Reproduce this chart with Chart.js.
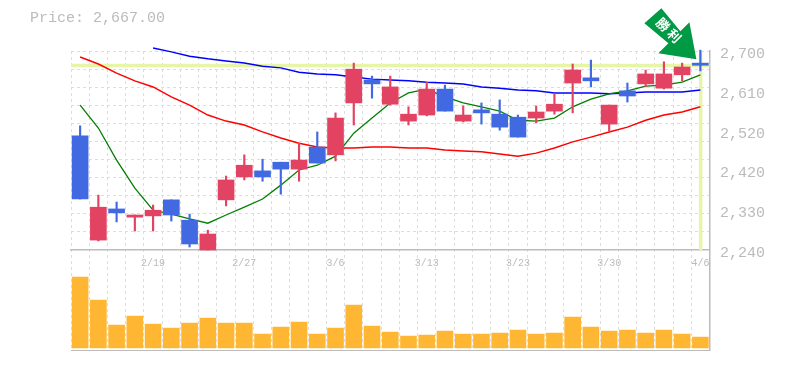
<!DOCTYPE html>
<html><head><meta charset="utf-8">
<style>html,body{margin:0;padding:0;background:#fff}canvas{display:block}</style>
<script src="https://cdn.jsdelivr.net/npm/chart.js@4/dist/chart.umd.min.js"></script>
</head><body><canvas id="c" width="785" height="370"></canvas>
<script>
const titleText = 'Price: 2,667.00';
const lastPrice = 2667;
const dates = ['2/13','2/14','2/15','2/18','2/19','2/20','2/21','2/22','2/25','2/27','2/28','3/1','3/4','3/5','3/6','3/7','3/8','3/11','3/12','3/13','3/14','3/15','3/18','3/19','3/23','3/25','3/26','3/27','3/28','3/30','4/1','4/2','4/3','4/4','4/6'];
const labelEvery = [4,9,14,19,24,29,34];
const opens  = [2504,2263,2335,2316,2319,2356,2309,2240,2356,2409,2423,2443,2427,2478,2460,2580,2633,2577,2538,2552,2612,2538,2564,2554,2547,2545,2561,2626,2638,2531,2608,2624,2614,2645,2672];
const highs  = [2527,2367,2351,2321,2344,2356,2323,2286,2411,2460,2450,2443,2487,2513,2557,2672,2642,2642,2571,2628,2621,2573,2580,2587,2552,2573,2601,2670,2679,2575,2626,2656,2675,2672,2702];
const lows   = [2358,2261,2305,2284,2284,2307,2247,2240,2342,2402,2399,2369,2399,2441,2446,2529,2591,2575,2529,2550,2561,2536,2531,2517,2501,2534,2554,2557,2617,2515,2582,2617,2612,2631,2654];
const closes = [2358,2339,2326,2321,2332,2321,2254,2277,2402,2436,2409,2427,2448,2441,2545,2658,2624,2617,2554,2612,2561,2552,2557,2524,2501,2559,2577,2656,2631,2575,2596,2647,2647,2663,2667];
const volumes = [710,480,230,320,240,200,250,300,250,250,140,210,260,140,200,430,220,160,120,130,170,140,140,150,180,140,150,310,210,170,180,150,180,140,110];
const maShort = [2575,2522,2448,2383,2332,2323,2312,2302,2321,2339,2358,2390,2425,2436,2457,2510,2545,2580,2603,2612,2594,2580,2571,2561,2540,2538,2545,2571,2589,2601,2608,2619,2621,2628,2645];
const maMid = [null,null,null,null,2707,2698,2688,2682,2677,2672,2665,2661,2651,2647,2645,2640,2635,2633,2631,2628,2626,2624,2617,2614,2610,2608,2603,2603,2603,2601,2603,2605,2605,2605,2610];
const maLong = [2686,2670,2649,2631,2617,2594,2575,2552,2538,2529,2513,2499,2487,2478,2476,2476,2478,2478,2476,2476,2471,2469,2467,2462,2457,2464,2476,2490,2501,2513,2524,2540,2552,2559,2571];
const priceTicks = [2240,2332,2424,2516,2608,2700];
const priceTickLabels = ['2,240','2,330','2,420','2,520','2,610','2,700'];
const gridValues = [2700,2658,2616,2575,2533,2491,2449,2407,2365,2324,2282];
const priceFloor = 2009;
const priceCeil = 2700;

const UP = '#E34362', DOWN = '#4169E1', VOL = '#FFB733', MARK = '#E6F5A8', TXT = '#BBBBBB', GRID = '#DDDDDD', AXIS = '#BBBBBB', BADGE = '#009944';
const MONO = "'Liberation Mono', monospace";
const candleColors = opens.map((o,i)=> closes[i] >= o ? UP : DOWN);
const bodies = opens.map((o,i)=>[o,closes[i]]);
const wicks = lows.map((l,i)=>[l,highs[i]]);

const overlay = {
  id:'overlay',
  beforeDatasetsDraw(chart){
    const {ctx,chartArea:a,scales} = chart;
    const y = scales.y.getPixelForValue(lastPrice);
    const x = scales.x.getPixelForValue(dates.length-1);
    const bottom = scales.y.getPixelForValue(priceTicks[0]);
    ctx.save();
    ctx.fillStyle = MARK;
    ctx.fillRect(a.left,y-1.5,a.right-a.left,3.5);
    ctx.fillRect(x-1.5,a.top,3.5,bottom-a.top);
    ctx.restore();
  },
  afterDraw(chart){
    const {ctx,scales} = chart;
    const tx = scales.x.getPixelForValue(dates.length-1)-4;
    const ty = scales.y.getPixelForValue(lastPrice)-6;
    ctx.save();
    ctx.translate(tx,ty);
    ctx.fillStyle = BADGE;
    ctx.beginPath();
    [[-35,-51],[-52,-36],[-28,-16],[-38,-6],[0,0],[-7,-37],[-16,-28]].forEach((p,i)=> i?ctx.lineTo(p[0],p[1]):ctx.moveTo(p[0],p[1]));
    ctx.closePath();ctx.fill();
    ctx.translate(-29,-29);
    ctx.rotate(Math.PI/4);
    ctx.fillStyle='#fff';
    ctx.font="bold 13px 'Noto Sans CJK JP'";
    ctx.textAlign='center';ctx.textBaseline='middle';
    ctx.fillText('勝',-7,-1);
    ctx.fillText('利',9,-1);
    ctx.restore();
  }
};

new Chart(document.getElementById('c'),{
  type:'bar',
  data:{labels:dates,datasets:[
    {type:'bar',label:'wick',data:wicks,backgroundColor:candleColors,barThickness:1.5,grouped:false,yAxisID:'y',order:1,clip:false},
    {type:'bar',label:'body',data:bodies,backgroundColor:candleColors,barThickness:16,grouped:false,yAxisID:'y',order:2,clip:false},
    {type:'bar',label:'volume',data:volumes,backgroundColor:VOL,barThickness:16,grouped:false,yAxisID:'yVol',order:3},
    {type:'line',label:'ma5',data:maShort,borderColor:'#007F00',borderWidth:1.3,pointRadius:0,tension:0,yAxisID:'y',order:4,clip:false},
    {type:'line',label:'ma25',data:maLong,borderColor:'#FF0000',borderWidth:1.5,pointRadius:0,tension:0,yAxisID:'y',order:5,clip:false},
    {type:'line',label:'ma75',data:maMid,borderColor:'#0000FF',borderWidth:1.5,pointRadius:0,tension:0,yAxisID:'y',order:6,clip:false,spanGaps:false}
  ]},
  options:{
    responsive:false,animation:false,
    layout:{padding:{left:30,top:0,bottom:20,right:0}},
    plugins:{
      legend:{display:false},tooltip:{enabled:false},
      title:{display:true,text:titleText,align:'start',color:TXT,font:{family:MONO,size:15,weight:'normal'},padding:{top:9,bottom:24}}
    },
    scales:{
      x:{type:'category',position:{y:priceTicks[0]},offset:true,
        grid:{display:true,offset:true,color:GRID,drawTicks:false,lineWidth:1},
        border:{display:true,color:AXIS,width:1.5,dash:[3,3]},
        ticks:{autoSkip:false,maxRotation:0,color:TXT,padding:7,font:{family:MONO,size:10},
          callback(v,i){return labelEvery.includes(i)?dates[i]:'';}}
      },
      y:{position:'right',min:priceFloor,max:priceCeil,
        afterFit(s){s.width=75.5;},
        afterBuildTicks(s){s.ticks=priceTicks.map(value=>({value}));},
        grid:{display:false,drawTicks:false},
        border:{display:true,color:AXIS,width:1.5},
        ticks:{color:TXT,padding:10.5,labelOffset:3,font:{family:MONO,size:15},
          callback(v){return priceTickLabels[priceTicks.indexOf(v)];}}
      },
      yGrid:{position:'left',min:priceFloor,max:priceCeil,
        afterFit(s){s.width=41;},
        afterBuildTicks(s){s.ticks=gridValues.concat([priceFloor]).map(value=>({value}));},
        grid:{drawTicks:false,lineWidth:1,color(c){return c.tick&&c.tick.value===priceFloor?AXIS:GRID;}},
        border:{display:false,dash(c){return c.tick&&c.tick.value===priceFloor?[]:[3,3];}},
        ticks:{display:false}
      },
      yVol:{display:false,min:-20,max:2970}
    }
  },
  plugins:[overlay]
});
</script></body></html>
